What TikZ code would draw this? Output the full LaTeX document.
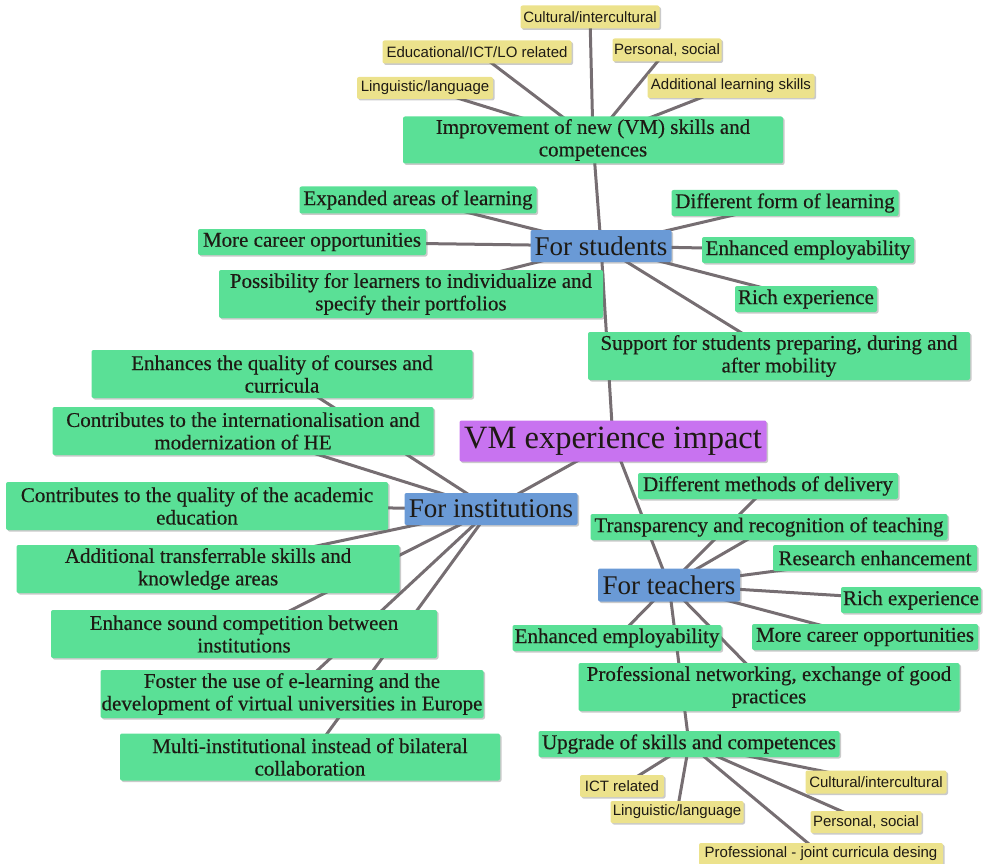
\documentclass[tikz,border=0pt]{standalone}
\usepackage{fontspec}
\setmainfont{Liberation Serif}
\newfontfamily\leaffont{Liberation Serif}[BoldFont=Liberation Serif, BoldFeatures={FakeBold=0.4}]
\newfontfamily\tagfont{Liberation Sans}
\usetikzlibrary{shadows}
\pgfdeclarelayer{background}
\pgfsetlayers{background,main}

\definecolor{leafgreen}{HTML}{5AE096}
\definecolor{hubblue}{HTML}{6A9AD6}
\definecolor{rootpurple}{HTML}{C873F0}
\definecolor{tagyellow}{HTML}{ECE28C}
\definecolor{linkgray}{HTML}{766E72}
\definecolor{inkc}{HTML}{1E1A14}

\tikzset{
  base/.style={rectangle, rounded corners=2pt, inner sep=0pt, align=center,
    text=inkc, drop shadow={shadow xshift=1.5pt, shadow yshift=-1.5pt,
    opacity=0.35, fill=black!60}},
  sz/.style 2 args={minimum width=#1, minimum height=#2},
  leaf/.style={base, fill=leafgreen, font=\leaffont\bfseries\fontsize{21}{22.5}\selectfont},
  hub/.style={base, fill=hubblue, font=\fontsize{27}{29}\selectfont},
  root/.style={base, fill=rootpurple, font=\fontsize{32.5}{34}\selectfont},
  tag/.style={base, fill=tagyellow, font=\tagfont\fontsize{15}{16}\selectfont},
  link/.style={draw=linkgray, line width=3pt},
}

\begin{document}
\begin{tikzpicture}[x=1pt, y=-1pt]
\useasboundingbox (0,0) rectangle (986,864);

% centre
\node[root, sz={307pt}{41pt}] (vm) at (613,441) {VM experience impact};

% students branch
\node[hub, sz={141pt}{32pt}] (stu) at (601,246) {For students};
\node[leaf, sz={380pt}{47pt}] (imp) at (593,140) {Improvement of new (VM) skills and\\competences};
\node[tag, sz={139pt}{23pt}] (sc) at (590,17) {Cultural/intercultural};
\node[tag, sz={189pt}{23pt}] (se) at (477,52) {Educational/ICT/LO related};
\node[tag, sz={109pt}{23pt}] (sp) at (667,50) {Personal, social};
\node[tag, sz={136pt}{22pt}] (sl) at (425,88) {Linguistic/language};
\node[tag, sz={167pt}{24pt}] (sa) at (731,86) {Additional learning skills};
\node[leaf, sz={237pt}{27pt}] (s1) at (418,200) {Expanded areas of learning};
\node[leaf, sz={228pt}{26pt}] (s2) at (312,242) {More career opportunities};
\node[leaf, sz={384pt}{48pt}] (s3) at (411,294) {Possibility for learners to individualize and\\specify their portfolios};
\node[leaf, sz={227pt}{26pt}] (s4) at (785,203) {Different form of learning};
\node[leaf, sz={212pt}{26pt}] (s5) at (808,250) {Enhanced employability};
\node[leaf, sz={142pt}{26pt}] (s6) at (806,299) {Rich experience};
\node[leaf, sz={382pt}{48pt}] (s7) at (779,356) {Support for students preparing, during and\\after mobility};

% institutions branch
\node[hub, sz={173pt}{32pt}] (ins) at (491,509) {For institutions};
\node[leaf, sz={381pt}{48pt}] (i1) at (282,374) {Enhances the quality of courses and\\curricula};
\node[leaf, sz={381pt}{48pt}] (i2) at (243,431) {Contributes to the internationalisation and\\modernization of HE};
\node[leaf, sz={382pt}{48pt}] (i3) at (197,506) {Contributes to the quality of the academic\\education};
\node[leaf, sz={383pt}{48pt}] (i4) at (208,569) {Additional transferrable skills and\\knowledge areas};
\node[leaf, sz={386pt}{48pt}] (i5) at (244,634) {Enhance sound competition between\\institutions};
\node[leaf, sz={383pt}{48pt}] (i6) at (292,694) {Foster the use of e-learning and the\\development of virtual universities in Europe};
\node[leaf, sz={380pt}{47pt}] (i7) at (310,757) {Multi-institutional instead of bilateral\\collaboration};

% teachers branch
\node[hub, sz={142pt}{33pt}] (tea) at (669,585) {For teachers};
\node[leaf, sz={260pt}{26pt}] (t1) at (768,486) {Different methods of delivery};
\node[leaf, sz={357pt}{26pt}] (t2) at (769,527) {Transparency and recognition of teaching};
\node[leaf, sz={204pt}{26pt}] (t3) at (875,558) {Research enhancement};
\node[leaf, sz={140pt}{26pt}] (t4) at (911,600) {Rich experience};
\node[leaf, sz={226pt}{26pt}] (t5) at (865,637) {More career opportunities};
\node[leaf, sz={209pt}{26pt}] (t6) at (617,638) {Enhanced employability};
\node[leaf, sz={381pt}{48pt}] (t7) at (769,687) {Professional networking, exchange of good\\practices};
\node[leaf, sz={301pt}{26pt}] (up) at (689,744) {Upgrade of skills and competences};
\node[tag, sz={84pt}{22pt}] (u1) at (622,786) {ICT related};
\node[tag, sz={133pt}{22pt}] (u2) at (677,812) {Linguistic/language};
\node[tag, sz={141pt}{23pt}] (u3) at (876,782) {Cultural/intercultural};
\node[tag, sz={111pt}{22pt}] (u4) at (866,822) {Personal, social};
\node[tag, sz={244pt}{22pt}] (u5) at (821,854) {Professional - joint curricula desing};

% connectors, behind the boxes
\begin{pgfonlayer}{background}
  \foreach \a/\b in {vm/stu, vm/ins, vm/tea,
      stu/imp, imp/sc, imp/se, imp/sp, imp/sl, imp/sa,
      stu/s1, stu/s2, stu/s3, stu/s4, stu/s5, stu/s6, stu/s7,
      ins/i1, ins/i2, ins/i3, ins/i4, ins/i5, ins/i6, ins/i7,
      tea/t1, tea/t2, tea/t3, tea/t4, tea/t5, tea/t6, tea/t7, tea/up,
      up/u1, up/u2, up/u3, up/u4, up/u5}
    \draw[link] (\a.center) -- (\b.center);
\end{pgfonlayer}
\end{tikzpicture}
\end{document}
